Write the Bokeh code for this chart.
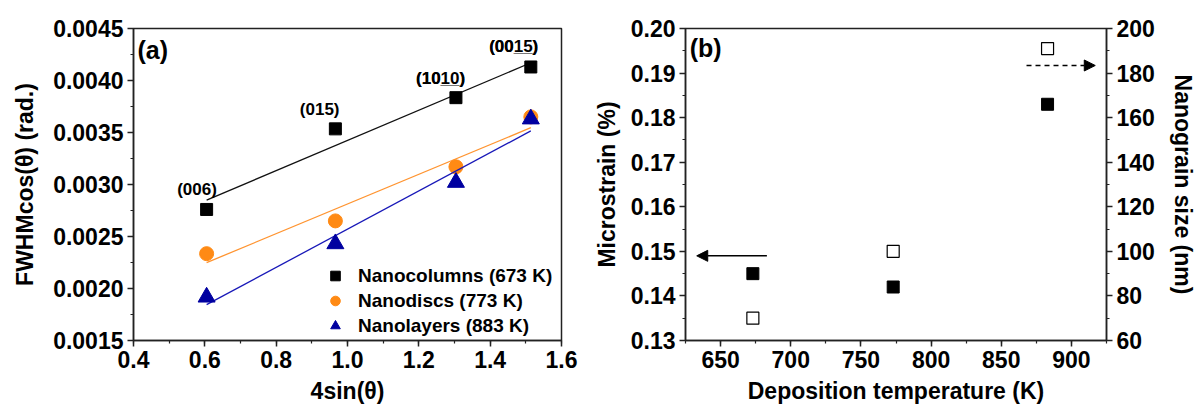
from bokeh.plotting import figure
from bokeh.layouts import row
from bokeh.models import (LinearAxis, Range1d, Legend, LegendItem, Arrow, NormalHead,
                          Label, SingleIntervalTicker, NumeralTickFormatter)
from bokeh.core.properties import value
from bokeh.embed import file_html
from bokeh.resources import INLINE
import numpy as np

FONT = "Liberation Sans"

# ---------------- panel (a) data ----------------
four_sin_theta = [0.605, 0.966, 1.304, 1.514]
fwhm_nanocolumns = [0.00276, 0.003535, 0.003835, 0.00413]
fwhm_nanodiscs = [0.002335, 0.00265, 0.00317, 0.00365]
fwhm_nanolayers = [0.001917, 0.00243, 0.00302, 0.00363]
series_names = ["Nanocolumns (673 K)", "Nanodiscs (773 K)", "Nanolayers (883 K)"]
miller_labels = ["(006)", "(015)", "(1010)", "(0015)"]
miller_underlines = ["", "", "(10__)", "(00__)"]
miller_x = [0.578, 0.922, 1.261, 1.466]
miller_y = [0.00295, 0.003725, 0.00402, 0.004326]

# ---------------- panel (b) data ----------------
deposition_temp = [673, 773, 883]
microstrain = [0.145, 0.142, 0.183]
grain_size = [70, 100, 191]


def style_axis(ax, tick_fmt):
    ax.axis_line_color = "#222222"
    ax.axis_line_width = 1.5
    ax.major_tick_line_color = "#222222"
    ax.major_tick_line_width = 1.5
    ax.minor_tick_line_color = "#222222"
    ax.minor_tick_line_width = 1.2
    ax.major_tick_in = 0
    ax.major_tick_out = 6
    ax.minor_tick_in = 0
    ax.minor_tick_out = 3
    ax.major_label_text_font = FONT
    ax.major_label_text_font_size = "23px"
    ax.major_label_text_font_style = "bold"
    ax.major_label_text_color = "black"
    ax.major_label_standoff = 4
    ax.axis_label_text_font = FONT
    ax.axis_label_text_font_size = "23px"
    ax.axis_label_text_font_style = "bold"
    ax.axis_label_text_color = "black"
    ax.formatter = NumeralTickFormatter(format=tick_fmt)


# ================= figure (a) =================
pa = figure(width=590, height=406, x_range=Range1d(0.4, 1.6000001),
            y_range=Range1d(0.0015, 0.0045000001),
            output_backend="svg", toolbar_location=None,
            min_border_left=133, min_border_right=29, min_border_top=28, min_border_bottom=64)
pa.xgrid.visible = False
pa.ygrid.visible = False
pa.outline_line_color = "#222222"
pa.outline_line_width = 1.5

pa.xaxis.ticker = SingleIntervalTicker(interval=0.2, num_minor_ticks=2)
pa.yaxis.ticker = SingleIntervalTicker(interval=0.0005, num_minor_ticks=2)
style_axis(pa.xaxis[0], "0.0")
style_axis(pa.yaxis[0], "0.0000")
pa.xaxis.axis_label = "4sin(\u03b8)"
pa.yaxis.axis_label = "FWHMcos(\u03b8) (rad.)"
pa.xaxis.axis_label_standoff = 7
pa.yaxis.axis_label_standoff = 12

series = [
    (fwhm_nanocolumns, "square", "black", "black", 12, "#111111"),
    (fwhm_nanodiscs, "circle", "#FF8A14", "#FF8A14", 14, "#FF9430"),
    (fwhm_nanolayers, "triangle", "#0000A0", "#0000A0", 17, "#1818B8"),
]
xs = np.array(four_sin_theta)
items = []
for (ys, marker, fc, lc, sz, linec), name in zip(series, series_names):
    k, b = np.polyfit(xs, np.array(ys), 1)
    xfit = np.array([xs.min(), xs.max()])
    pa.line(xfit, k * xfit + b, line_color=linec, line_width=1.3)
    r = pa.scatter(four_sin_theta, ys, marker=marker, size=sz, fill_color=fc, line_color=lc)
    items.append(LegendItem(label=name, renderers=[r]))

legend = Legend(items=items, location=(190, 2), background_fill_alpha=0, border_line_color=None,
                padding=0, margin=0, spacing=0, glyph_width=24, glyph_height=25, label_height=25,
                label_standoff=11, label_text_font=FONT, label_text_font_size="19px",
                label_text_font_style="bold", label_text_color="black")
pa.add_layout(legend)

pa.text(x=miller_x, y=miller_y, text=miller_labels, text_font=value(FONT), text_font_size="17px",
        text_font_style="bold", text_align="center", text_baseline="middle", text_color="black")
pa.text(x=miller_x, y=miller_y, text=miller_underlines, text_font=value(FONT), text_font_size="17px",
        text_font_style="bold", text_align="center", text_baseline="middle", text_color="black")
pa.add_layout(Label(x=0.411, y=0.00443, text="(a)", text_align="left", text_baseline="top",
                    text_font=FONT, text_font_size="25px", text_font_style="bold", text_color="black"))

# ================= figure (b) =================
pb = figure(width=608, height=406, x_range=Range1d(625, 925), y_range=Range1d(0.13, 0.2000001),
            output_backend="svg", toolbar_location=None,
            min_border_left=94, min_border_right=87, min_border_top=28, min_border_bottom=64)
pb.xgrid.visible = False
pb.ygrid.visible = False
pb.outline_line_color = "#222222"
pb.outline_line_width = 1.5
pb.extra_y_ranges = {"grain": Range1d(60, 200.00001)}

pb.xaxis.ticker = SingleIntervalTicker(interval=50, num_minor_ticks=2)
pb.yaxis.ticker = SingleIntervalTicker(interval=0.01, num_minor_ticks=2)
style_axis(pb.xaxis[0], "0")
style_axis(pb.yaxis[0], "0.00")
pb.xaxis.axis_label = "Deposition temperature (K)"
pb.yaxis.axis_label = "Microstrain (%)"
pb.xaxis.axis_label_standoff = 7
pb.yaxis.axis_label_standoff = 8

right_axis = LinearAxis(y_range_name="grain", axis_label="Nanograin size (nm)",
                        ticker=SingleIntervalTicker(interval=20, num_minor_ticks=2))
style_axis(right_axis, "0")
right_axis.axis_label_standoff = 12
pb.add_layout(right_axis, "right")

pb.scatter(deposition_temp, microstrain, marker="square", size=12,
           fill_color="black", line_color="black")
pb.scatter(deposition_temp, grain_size, marker="square", size=12,
           fill_color="white", line_color="black", line_width=1.2, y_range_name="grain")

pb.add_layout(Arrow(end=NormalHead(size=11, fill_color="black", line_color="black"),
                    x_start=683, y_start=0.149, x_end=633, y_end=0.149,
                    line_color="black", line_width=1.5))
pb.add_layout(Arrow(end=NormalHead(size=11, fill_color="black", line_color="black"),
                    x_start=868, y_start=183.4, x_end=917, y_end=183.4,
                    line_color="black", line_width=1.5, line_dash="5 4", y_range_name="grain"))
pb.add_layout(Label(x=628, y=0.1987, text="(b)", text_align="left", text_baseline="top",
                    text_font=FONT, text_font_size="25px", text_font_style="bold", text_color="black"))

layout = row(pa, pb)
open("out.html", "w").write(file_html(layout, INLINE))
